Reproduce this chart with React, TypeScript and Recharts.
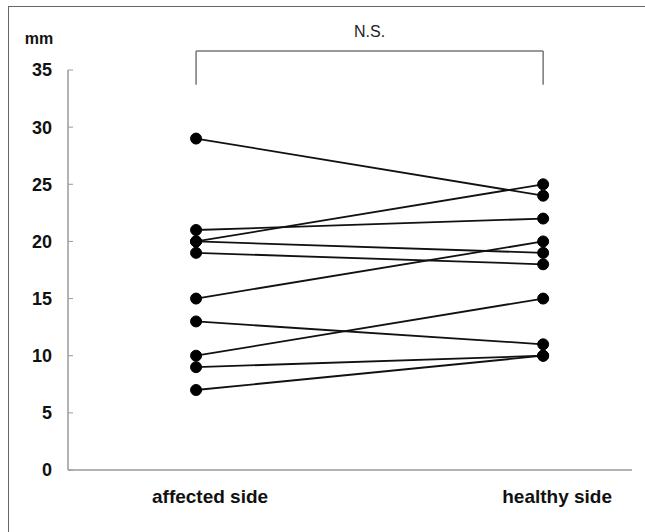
import { LineChart, Line, XAxis, YAxis, ReferenceLine } from "recharts";

// paired measurements (mm), one entry per subject
const affectedSide = [29, 21, 20, 20, 19, 15, 13, 10, 9, 7];
const healthySide = [24, 22, 25, 19, 18, 20, 11, 15, 10, 10];
const sideLabels = ["affected side", "healthy side"];
const yTicks = [0, 5, 10, 15, 20, 25, 30, 35];

// bracket over the two groups
const bracketTop = 36.66;
const bracketFoot = 33.7;

const keys = affectedSide.map((_, i) => `s${i}`);
const data = [0, 1].map((x) => {
  const row: Record<string, number> = { x };
  keys.forEach((k, i) => {
    row[k] = x === 0 ? affectedSide[i] : healthySide[i];
  });
  return row;
});

const font = '"Liberation Sans", Arial, Helvetica, sans-serif';
const axisGray = "#9a9a9a";

export default function App() {
  return (
    <div style={{ position: "absolute", left: 0, top: 0, width: 645, height: 532, background: "#fff" }}>
      <div
        style={{
          position: "absolute",
          left: 8,
          top: 6,
          width: 637,
          height: 526,
          borderLeft: "1.5px solid #666",
          borderTop: "1.5px solid #666",
          boxSizing: "border-box",
        }}
      />
      <LineChart
        width={645}
        height={532}
        data={data}
        margin={{ top: 70, right: 13, bottom: 22, left: 0 }}
        style={{ fontFamily: font }}
      >
        <XAxis
          dataKey="x"
          type="number"
          domain={[-0.369, 1.256]}
          allowDataOverflow
          ticks={[0, 1]}
          tickFormatter={(v) => sideLabels[v] ?? ""}
          height={40}
          tickSize={0}
          tickMargin={20}
          tickLine={false}
          axisLine={{ stroke: axisGray, strokeWidth: 1.5 }}
          tick={{ fill: "#111", fontSize: 19, fontWeight: "bold", dx: 14 }}
        />
        <YAxis
          domain={[0, 35]}
          ticks={yTicks}
          width={68}
          tickSize={-5}
          tickMargin={21}
          axisLine={{ stroke: axisGray, strokeWidth: 1.5 }}
          tickLine={{ stroke: axisGray }}
          tick={{ fill: "#111", fontSize: 18, fontWeight: "bold" }}
          label={{ value: "mm", position: "top", offset: 26, dx: 5, fill: "#111", fontSize: 16, fontWeight: "bold" }}
        />
        <ReferenceLine
          segment={[{ x: 0, y: bracketTop }, { x: 1, y: bracketTop }]}
          ifOverflow="visible"
          stroke="#777"
          strokeWidth={1.5}
          label={{ value: "N.S.", position: "top", offset: 14, fill: "#222", fontSize: 16 }}
        />
        <ReferenceLine
          segment={[{ x: 0, y: bracketTop }, { x: 0, y: bracketFoot }]}
          ifOverflow="visible"
          stroke="#777"
          strokeWidth={1.5}
        />
        <ReferenceLine
          segment={[{ x: 1, y: bracketTop }, { x: 1, y: bracketFoot }]}
          ifOverflow="visible"
          stroke="#777"
          strokeWidth={1.5}
        />
        {keys.map((k) => (
          <Line
            key={k}
            dataKey={k}
            type="linear"
            stroke="#111"
            strokeWidth={1.8}
            dot={{ r: 5.5, fill: "#000", stroke: "#000", strokeWidth: 1 }}
            activeDot={false}
            isAnimationActive={false}
          />
        ))}
      </LineChart>
    </div>
  );
}
